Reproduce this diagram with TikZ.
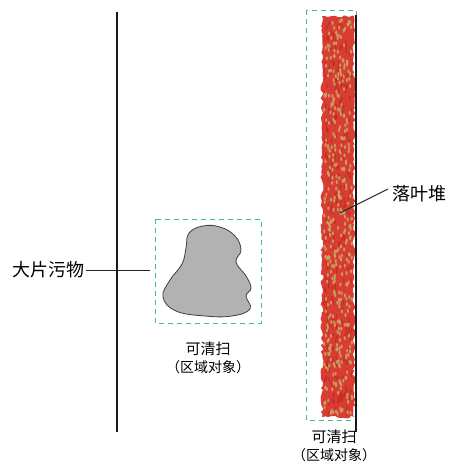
\documentclass[tikz,border=0pt]{standalone}
\usepackage{fontspec}
\newfontfamily\cjk{Noto Sans CJK SC}
\usetikzlibrary{decorations.pathmorphing}

\definecolor{leafred}{RGB}{216,60,50}
\definecolor{leafdark}{RGB}{190,40,36}
\definecolor{leafspot}{RGB}{200,168,100}
\definecolor{zonegreen}{RGB}{70,185,145}
\definecolor{dirtgray}{RGB}{178,178,178}

\tikzset{
  wall/.style={line width=1.8pt, black!90},
  zone/.style={draw=zonegreen, dash pattern=on 5pt off 4pt, line width=1pt},
  tag/.style={font=\cjk\fontsize{18}{18}\selectfont, inner sep=1pt},
  note/.style={font=\cjk\fontsize{15}{18}\selectfont, align=center, inner sep=1pt},
  pointer/.style={line width=1pt, black!85}
}

\begin{document}
\begin{tikzpicture}[x=1pt,y=-1pt]
  \useasboundingbox (0,0) rectangle (449,466);

  % left wall
  \draw[wall] (117,12) -- (117,432);

  % big dirt spot in its zone
  \draw[zone] (155,219) rectangle (261,323);
  \draw[fill=dirtgray, draw=black!75, line width=0.8pt]
    plot[smooth cycle, tension=0.7] coordinates {
      (189,233) (203,226) (220,227) (235,236) (241,250) (236,262)
      (246,276) (251,288) (246,296) (250,309) (232,316) (205,316)
      (176,311) (163,297) (170,280) (182,264) (186,248)};
  \node[note] (spotnote) at (208,358) {可清扫\\{\fontsize{14}{17}\selectfont （区域对象）}};
  \node[tag, anchor=east] (dirt) at (86,270) {大片污物};
  \coordinate (dirtend) at (150,270);
  \draw[pointer] (dirt.east) -- (dirtend);

  % leaf pile along the right wall
  \draw[zone] (306,10) rectangle (356,420);
  \fill[leafred, decorate, decoration={random steps, segment length=3pt, amplitude=1.5pt}]
    (322,16) rectangle (354,417);
  \pgfmathsetseed{7}
  \foreach \i in {1,...,260} {
    \pgfmathsetmacro{\px}{324+rnd*28}
    \pgfmathsetmacro{\py}{20+rnd*394}
    \fill[leafdark, opacity=0.7] (\px,\py) ellipse (0.8pt and 2.6pt);
  }
  \foreach \i in {1,...,380} {
    \pgfmathsetmacro{\px}{324+rnd*28}
    \pgfmathsetmacro{\py}{20+rnd*394}
    \fill[leafspot, opacity=0.85] (\px,\py) ellipse (1.1pt and 2pt);
  }
  \draw[wall] (356,15) -- (356,432);
  \node[tag, anchor=west] (leaves) at (391,194) {落叶堆};
  \coordinate (leafend) at (340,213);
  \draw[pointer] (leaves.west) ++(-3,-5) -- (leafend);
  \node[note] (pilenote) at (334,446) {可清扫\\{\fontsize{14}{17}\selectfont （区域对象）}};
\end{tikzpicture}
\end{document}
